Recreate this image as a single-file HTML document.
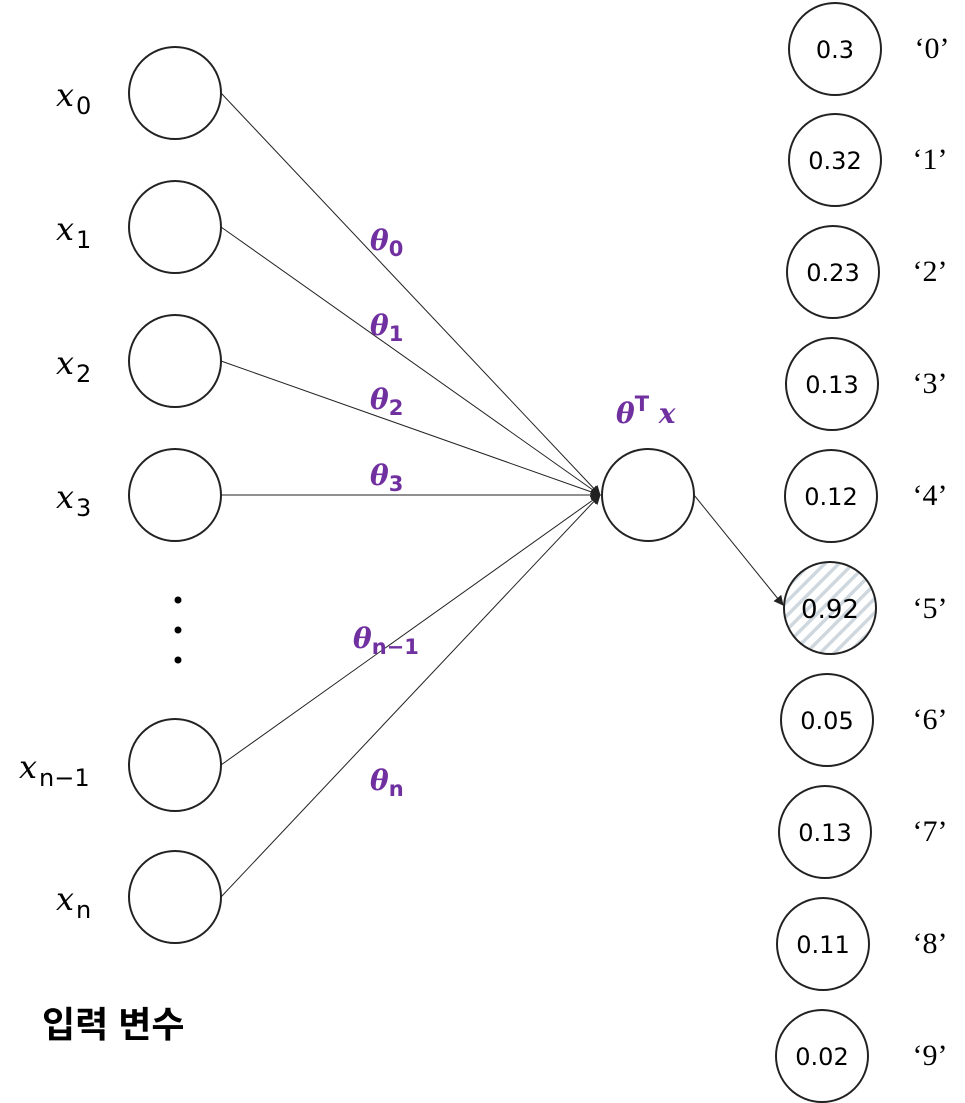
<!DOCTYPE html>
<html><head><meta charset="utf-8"><style>
html,body{margin:0;padding:0;background:#fff;}
svg{display:block;}
.lbl{font-family:"DejaVu Serif","Liberation Serif",serif;font-style:italic;font-size:32px;fill:#000;}
.sub{font-family:"DejaVu Sans","Liberation Sans",sans-serif;font-style:normal;font-size:24px;}
.th{font-family:"DejaVu Serif","Liberation Serif",serif;font-style:italic;font-weight:bold;font-size:28px;fill:#7030a0;}
.ths{font-family:"DejaVu Sans","Liberation Sans",sans-serif;font-size:21px;font-style:normal;}
.num{font-family:"DejaVu Sans","Liberation Sans",sans-serif;font-size:24px;fill:#000;}
.q{font-family:"Liberation Serif",serif;font-size:30px;fill:#000;}
</style></head><body>
<svg width="965" height="1103" viewBox="0 0 965 1103" xmlns="http://www.w3.org/2000/svg">
<defs>
<pattern id="hatch" width="10" height="10" patternUnits="userSpaceOnUse" patternTransform="rotate(45)">
<rect width="10" height="10" fill="#fff"/>
<rect x="0" y="0" width="3.5" height="10" fill="#cfd8df"/>
</pattern>
<marker id="ar" markerWidth="10" markerHeight="10" refX="9" refY="5" orient="auto" markerUnits="userSpaceOnUse">
<path d="M0,0 L10,5 L0,10 z" fill="#222"/>
</marker>
</defs>
<g stroke="#222" stroke-width="1" fill="none">
<line x1="221" y1="93" x2="600" y2="495" marker-end="url(#ar)"/>
<line x1="221" y1="227" x2="600" y2="495" marker-end="url(#ar)"/>
<line x1="221" y1="361" x2="600" y2="495" marker-end="url(#ar)"/>
<line x1="221" y1="495" x2="600" y2="495" marker-end="url(#ar)"/>
<line x1="221" y1="765" x2="600" y2="495" marker-end="url(#ar)"/>
<line x1="221" y1="897" x2="600" y2="495" marker-end="url(#ar)"/>
<line x1="694" y1="495" x2="783" y2="605" marker-end="url(#ar)"/>
</g>
<g stroke="#222" stroke-width="2" fill="#fff">
<circle cx="175" cy="93" r="46"/>
<circle cx="175" cy="227" r="46"/>
<circle cx="175" cy="361" r="46"/>
<circle cx="175" cy="495" r="46"/>
<circle cx="175" cy="765" r="46"/>
<circle cx="175" cy="897" r="46"/>
<circle cx="648" cy="495" r="46"/>
<circle cx="835" cy="49" r="46"/>
<circle cx="835" cy="160" r="46"/>
<circle cx="833" cy="272" r="46"/>
<circle cx="832" cy="384" r="46"/>
<circle cx="831" cy="496" r="46"/>
<circle cx="830" cy="608" r="46" fill="url(#hatch)"/>
<circle cx="827" cy="720" r="46"/>
<circle cx="825" cy="832" r="46"/>
<circle cx="823" cy="944" r="46"/>
<circle cx="822" cy="1056" r="46"/>
</g>
<g fill="#000">
<circle cx="178" cy="600" r="3.5"/>
<circle cx="178" cy="630" r="3.5"/>
<circle cx="178" cy="660" r="3.5"/>
</g>
<text class="lbl" x="56" y="106">x<tspan class="sub" dx="2" dy="8">0</tspan></text>
<text class="lbl" x="56" y="240">x<tspan class="sub" dx="2" dy="8">1</tspan></text>
<text class="lbl" x="56" y="374">x<tspan class="sub" dx="2" dy="8">2</tspan></text>
<text class="lbl" x="56" y="508">x<tspan class="sub" dx="2" dy="8">3</tspan></text>
<text class="lbl" x="19" y="778">x<tspan class="sub" dx="2" dy="8">n−1</tspan></text>
<text class="lbl" x="56" y="910">x<tspan class="sub" dx="2" dy="8">n</tspan></text>
<text class="th" x="370" y="250">θ<tspan class="ths" dy="6">0</tspan></text>
<text class="th" x="370" y="335">θ<tspan class="ths" dy="6">1</tspan></text>
<text class="th" x="370" y="409">θ<tspan class="ths" dy="6">2</tspan></text>
<text class="th" x="370" y="485">θ<tspan class="ths" dy="6">3</tspan></text>
<text class="th" x="353" y="648">θ<tspan class="ths" dy="6">n−1</tspan></text>
<text class="th" x="370" y="790">θ<tspan class="ths" dy="6">n</tspan></text>
<text class="th" x="616" y="423">θ<tspan class="ths" dy="-12" font-style="italic">T</tspan><tspan dy="12"> x</tspan></text>
<text x="42" y="1037" font-family="'Liberation Sans','Noto Sans CJK KR',sans-serif" font-size="36" font-weight="bold" fill="#000">입력 변수</text>
<g class="num" text-anchor="middle">
<text x="835" y="58">0.3</text>
<text x="835" y="169">0.32</text>
<text x="833" y="281">0.23</text>
<text x="832" y="393">0.13</text>
<text x="831" y="505">0.12</text>
<text x="830" y="618" font-size="26">0.92</text>
<text x="827" y="729">0.05</text>
<text x="825" y="841">0.13</text>
<text x="823" y="953">0.11</text>
<text x="822" y="1065">0.02</text>
</g>
<g class="q" text-anchor="middle">
<text x="932" y="58">‘0’</text>
<text x="930" y="169">‘1’</text>
<text x="930" y="281">‘2’</text>
<text x="930" y="393">‘3’</text>
<text x="930" y="505">‘4’</text>
<text x="930" y="618">‘5’</text>
<text x="930" y="729">‘6’</text>
<text x="930" y="841">‘7’</text>
<text x="930" y="953">‘8’</text>
<text x="930" y="1065">‘9’</text>
</g>
</svg>
</body></html>
